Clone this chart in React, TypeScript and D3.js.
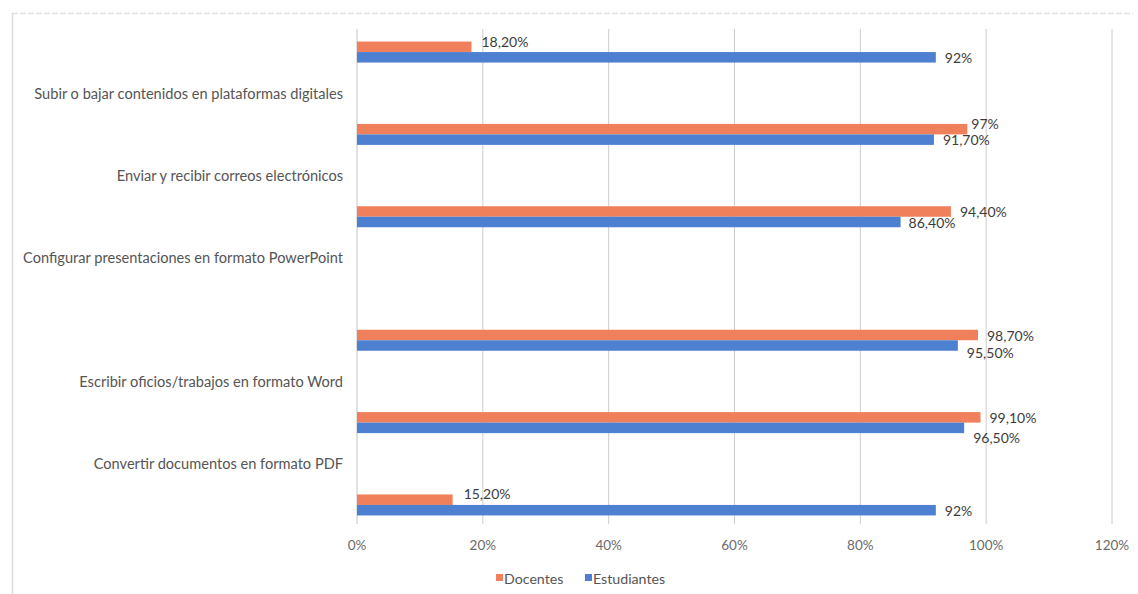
import React from "react";
import * as d3 from "d3";

// Bar groups, top to bottom (values in %)
const docentes = [18.2, 97, 94.4, 98.7, 99.1, 15.2];
const estudiantes = [92, 91.7, 86.4, 95.5, 96.5, 92];

// Category labels as they appear on the axis, top to bottom
const categories = [
  "Subir o bajar contenidos en plataformas digitales",
  "Enviar y recibir correos electrónicos",
  "Configurar presentaciones en formato PowerPoint",
  "Escribir oficios/trabajos en formato Word",
  "Convertir documentos en formato PDF",
];

const xTicks = [0, 20, 40, 60, 80, 100, 120];
const seriesNames = ["Docentes", "Estudiantes"];

// label nudges (px) to reproduce the original placement of overlapping labels
const nudgeDoc = [{ dx: 1, dy: -5 }, { dx: -5, dy: -6 }, { dx: 0, dy: 0 }, { dx: 0, dy: 0 }, { dx: 0, dy: 0 }, { dx: 2, dy: -6 }];
const nudgeEst = [{ dx: 0, dy: 0 }, { dx: 0, dy: 0 }, { dx: -1, dy: 1 }, { dx: 0, dy: 7 }, { dx: 0, dy: 10 }, { dx: 0, dy: 0 }];

const W = 1138;
const H = 594;
const ORANGE = "#F07F5C";
const BLUE = "#4E80D2";
const FONT = "Lato, 'Open Sans', sans-serif";

const fmt = (v: number) =>
  Number.isInteger(v) ? `${v}%` : `${v.toFixed(2).replace(".", ",")}%`;

// half-slot position: groups sit on even slots, labels on the odd slots between them,
// with an extra half-slot gap after the third group
const slotOf = (i: number, half: number) => i * 2 + half + (i >= 3 ? 1 : 0);

export default function App() {
  const x = d3.scaleLinear().domain([0, 120]).range([357, 1112]);
  const y = d3.scaleLinear().domain([-0.56, 11.39]).range([29, 521]);
  const barH = 10.5;
  const [y0, y1] = y.range();

  return (
    <svg
      width={W}
      height={H}
      style={{ position: "absolute", left: 0, top: 0, background: "#fff" }}
      fontFamily={FONT}
    >
      {/* frame */}
      <line x1={12} x2={1133} y1={13.5} y2={13.5} stroke="#e2e2e2" strokeWidth={1.5} strokeDasharray="6 2" />
      <line x1={12.5} x2={12.5} y1={13} y2={594} stroke="#dcdcdc" strokeWidth={1.5} />

      {/* gridlines */}
      {xTicks.map((t) => (
        <line
          key={t}
          x1={x(t)}
          x2={x(t)}
          y1={y0}
          y2={y1 + 3}
          stroke={t === 0 ? "#c4c4c4" : "#cccccc"}
          strokeWidth={1}
        />
      ))}

      {/* tick labels */}
      {xTicks.map((t) => (
        <text
          key={"t" + t}
          x={x(t)}
          y={545}
          textAnchor="middle"
          dominantBaseline="central"
          fontSize={13.5}
          fill="#6a6a6a"
        >
          {t}%
        </text>
      ))}

      {/* category labels */}
      {categories.map((c, i) => (
        <text
          key={c}
          x={343}
          y={y(slotOf(i, 1))}
          textAnchor="end"
          dominantBaseline="central"
          fontSize={14.6}
          fill="#555"
        >
          {c}
        </text>
      ))}

      {/* bars */}
      {docentes.map((v, i) => {
        const cy = y(slotOf(i, 0));
        return (
          <g key={"g" + i}>
            <rect x={x(0)} y={cy - barH} width={x(v) - x(0)} height={barH} fill={ORANGE} />
            <rect x={x(0)} y={cy} width={x(estudiantes[i]) - x(0)} height={barH} fill={BLUE} />
          </g>
        );
      })}

      {/* data labels */}
      {docentes.map((v, i) => {
        const cy = y(slotOf(i, 0));
        const e = estudiantes[i];
        return (
          <g key={"l" + i} fontSize={14} fill="#3c3c3c">
            <text
              x={x(v) + 9 + nudgeDoc[i].dx}
              y={cy - barH / 2 + nudgeDoc[i].dy}
              dominantBaseline="central"
            >
              {fmt(v)}
            </text>
            <text
              x={x(e) + 9 + nudgeEst[i].dx}
              y={cy + barH / 2 + nudgeEst[i].dy}
              dominantBaseline="central"
            >
              {fmt(e)}
            </text>
          </g>
        );
      })}

      {/* legend */}
      <g fontSize={14.2} fill="#555">
        <rect x={496} y={574} width={7} height={7} fill={ORANGE} />
        <text x={504} y={578} dominantBaseline="central">{seriesNames[0]}</text>
        <rect x={585} y={574} width={7} height={7} fill={BLUE} />
        <text x={593} y={578} dominantBaseline="central">{seriesNames[1]}</text>
      </g>
    </svg>
  );
}
